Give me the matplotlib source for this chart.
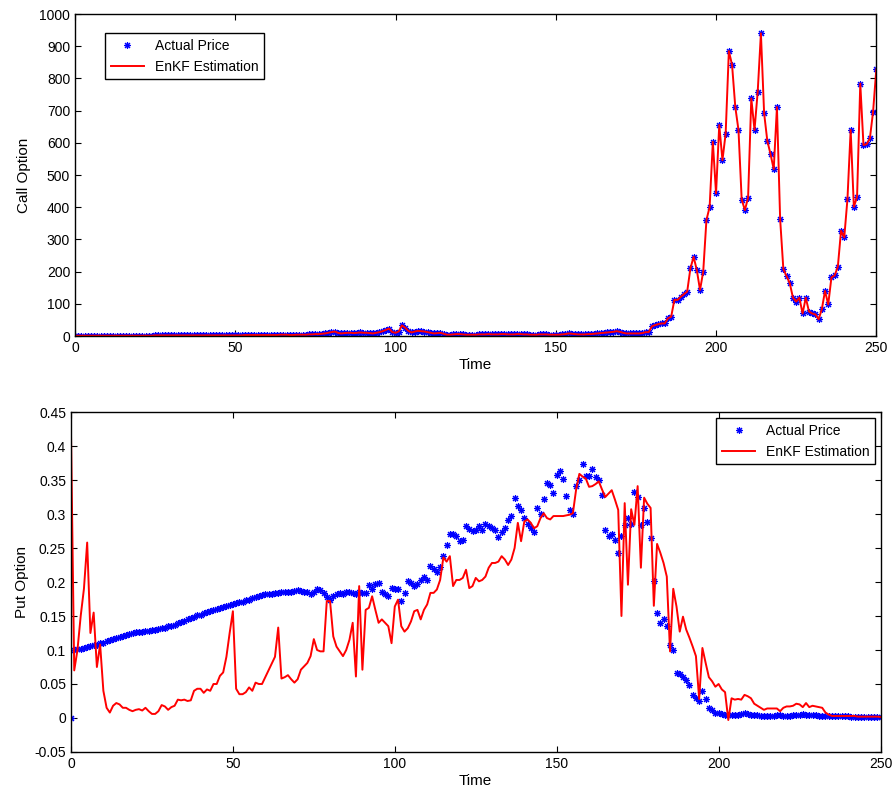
import matplotlib.pyplot as plt
import numpy as np
from matplotlib.ticker import FuncFormatter

plt.rcParams['font.family'] = ['Liberation Sans', 'DejaVu Sans']

# ── Datos ────────────────────────────────────────────────────────────────────
time = np.arange(251)

call_actual = [
    1, 1, 1, 1, 1, 1, 1, 1, 1, 1, 1, 1, 1, 1, 1, 1, 1, 1, 1, 1,
    1, 1, 1, 1, 1, 2, 2, 2, 2, 2, 2, 2, 2, 2, 2, 2, 2, 2, 2, 2,
    2, 2, 2, 2, 2, 2, 2, 2, 2, 2, 2, 2, 2, 3, 3, 3, 3, 3, 3, 3,
    3, 3, 3, 3, 4, 4, 4, 3, 3, 4, 4, 4, 4, 5, 5, 6,
    6, 7, 8, 10, 12, 14, 10, 8, 9, 10, 10, 9, 10, 11, 10, 10, 9, 8, 10, 12,
    15, 19, 23, 12, 10, 14, 33, 26, 16, 11, 14, 16, 15, 14, 12, 10, 8, 9, 10, 7,
    4, 4, 5, 6, 6, 5, 4, 4, 4, 4,
    5, 5, 5, 6, 5, 5, 5, 6, 6, 5, 5, 5, 6, 6, 5, 5, 4, 4, 4, 5, 5, 5, 4, 4, 4,
    4, 5, 6, 8, 7, 6, 5, 5, 5, 6, 6, 7, 8, 9, 10, 11, 12, 13, 15, 13, 10, 8, 8, 8,
    8, 8, 9, 12,
    12, 30, 34, 37, 39, 39, 55, 60, 112, 112, 122, 130, 138, 210, 246, 205, 143, 200,
    360, 401, 603, 443, 655, 546, 629,
    885, 842, 712, 640, 424, 391, 430, 738, 640, 759,
    940, 692, 606, 565, 518, 711, 363, 208, 186, 164,
    119, 107, 119, 70, 119, 76, 70, 67, 52, 83,
    140, 98, 182, 188, 215, 327, 306, 425, 640, 401,
    432, 784, 593, 596, 614, 697, 828,
]
# en la figura la estimación pasa por el centro de cada punto
call_enkf = list(call_actual)

put_actual = [
    0.000,
    0.100, 0.101, 0.102, 0.103, 0.105, 0.106, 0.107, 0.108, 0.110, 0.111,
    0.113, 0.114, 0.116, 0.117, 0.119, 0.120, 0.122, 0.123, 0.125, 0.126,
    0.127, 0.127, 0.128, 0.128, 0.129, 0.130, 0.131, 0.132, 0.133, 0.135,
    0.136, 0.137, 0.139, 0.141, 0.143, 0.145, 0.147, 0.149, 0.151, 0.152,
    0.154, 0.156, 0.157, 0.159, 0.160, 0.162, 0.163, 0.165, 0.166, 0.168,
    0.169, 0.170, 0.171, 0.173, 0.174, 0.176, 0.178, 0.179, 0.181, 0.182,
    0.183, 0.183, 0.184, 0.184, 0.185, 0.185, 0.186, 0.186, 0.187, 0.188,
    0.187, 0.186, 0.185, 0.183, 0.185, 0.190, 0.188, 0.184, 0.178, 0.174,
    0.180, 0.183, 0.184, 0.183, 0.185, 0.186, 0.184, 0.183, 0.185, 0.184,
    0.184, 0.195, 0.190, 0.197, 0.199, 0.186, 0.182, 0.179, 0.191, 0.190,
    0.189, 0.172, 0.184, 0.201, 0.198, 0.194, 0.197, 0.203, 0.207, 0.203,
    0.223, 0.219, 0.215, 0.222, 0.238, 0.255, 0.270, 0.270, 0.267, 0.260,
    0.262, 0.282, 0.278, 0.275, 0.277, 0.282, 0.277, 0.286, 0.282, 0.280,
    0.277, 0.266, 0.273, 0.279, 0.291, 0.297, 0.324, 0.312, 0.306, 0.294,
    0.286, 0.280, 0.273, 0.309, 0.300, 0.322, 0.346, 0.343, 0.331, 0.358,
    0.363, 0.351, 0.326, 0.306, 0.300, 0.341, 0.350, 0.374, 0.356, 0.356,
    0.366, 0.355, 0.350, 0.328, 0.277, 0.267, 0.270, 0.262, 0.242, 0.268,
    0.284, 0.294, 0.286, 0.332, 0.325, 0.284, 0.309, 0.288, 0.265, 0.201,
    0.154, 0.140, 0.146, 0.135, 0.108, 0.100, 0.066, 0.064, 0.061, 0.056,
    0.049, 0.034, 0.029, 0.025, 0.039, 0.028, 0.015, 0.012, 0.008, 0.008,
    0.006, 0.005, 0.004, 0.004, 0.005, 0.004, 0.006, 0.007, 0.006, 0.005,
    0.004, 0.004, 0.003, 0.003, 0.003, 0.003, 0.003, 0.004, 0.004, 0.003,
    0.003, 0.003, 0.004, 0.004, 0.005, 0.006, 0.005, 0.004, 0.004, 0.004,
    0.003, 0.003, 0.003, 0.003, 0.003, 0.003, 0.003, 0.003, 0.003, 0.003,
    0.002, 0.002, 0.002, 0.002, 0.002, 0.002, 0.002, 0.002, 0.002, 0.002,
]

put_enkf = [
    0.420, 0.070, 0.100, 0.150, 0.190, 0.258, 0.125, 0.155, 0.075, 0.108,
    0.040, 0.015, 0.008, 0.018, 0.022, 0.020, 0.015, 0.015, 0.012, 0.010,
    0.012, 0.013, 0.011, 0.015, 0.010, 0.006, 0.006, 0.010, 0.019, 0.017,
    0.012, 0.016, 0.018, 0.027, 0.026, 0.027, 0.025, 0.026, 0.040, 0.043,
    0.043, 0.037, 0.042, 0.040, 0.050, 0.050, 0.062, 0.067, 0.090, 0.125,
    0.157, 0.043, 0.035, 0.035, 0.038, 0.045, 0.040, 0.052, 0.050, 0.050,
    0.060, 0.070, 0.080, 0.090, 0.133, 0.058, 0.060, 0.063, 0.057, 0.052,
    0.057, 0.071, 0.076, 0.081, 0.091, 0.116, 0.100, 0.098, 0.098, 0.172,
    0.172, 0.120, 0.105, 0.098, 0.091, 0.100, 0.115, 0.140, 0.061, 0.194,
    0.071, 0.159, 0.162, 0.179, 0.159, 0.140, 0.145, 0.140, 0.135, 0.110,
    0.164, 0.174, 0.135, 0.127, 0.132, 0.142, 0.157, 0.159, 0.145, 0.159,
    0.167, 0.184, 0.184, 0.189, 0.203, 0.236, 0.230, 0.238, 0.194, 0.203,
    0.203, 0.206, 0.218, 0.191, 0.194, 0.206, 0.201, 0.203, 0.208, 0.221,
    0.228, 0.228, 0.230, 0.238, 0.233, 0.225, 0.233, 0.250, 0.287, 0.260,
    0.289, 0.292, 0.287, 0.279, 0.282, 0.294, 0.301, 0.294, 0.292, 0.297,
    0.297, 0.297, 0.297, 0.298, 0.299, 0.301, 0.336, 0.359, 0.355, 0.352,
    0.340, 0.341, 0.344, 0.348, 0.336, 0.325, 0.330, 0.335, 0.321, 0.306,
    0.150, 0.316, 0.196, 0.307, 0.284, 0.341, 0.221, 0.324, 0.315, 0.309,
    0.165, 0.256, 0.243, 0.228, 0.208, 0.098, 0.190, 0.164, 0.127, 0.149,
    0.130, 0.118, 0.105, 0.091, 0.028, 0.103, 0.081, 0.060, 0.054, 0.046,
    0.050, 0.042, 0.038, -0.003, 0.029, 0.027, 0.028, 0.027, 0.034, 0.032,
    0.029, 0.021, 0.018, 0.015, 0.012, 0.014, 0.014, 0.014, 0.014, 0.010,
    0.015, 0.017, 0.017, 0.018, 0.021, 0.020, 0.016, 0.022, 0.016, 0.018,
    0.017, 0.016, 0.015, 0.008, 0.005, 0.003, 0.003, 0.003, 0.003, 0.003,
    0.003, 0.003, 0.003, 0.002, 0.002, 0.002, 0.002, 0.002, 0.002, 0.002,
    0.0015,
]

assert len(call_actual) == len(time) and len(put_actual) == len(time)
assert len(put_enkf) == len(time)

# ── Gráfica ──────────────────────────────────────────────────────────────────
fig = plt.figure(figsize=(8.94, 7.94), dpi=100)
ax1 = fig.add_axes([0.0839, 0.5768, 0.8963, 0.4055])
ax2 = fig.add_axes([0.0794, 0.0529, 0.9055, 0.4282])

star = (8, 2, 0)


def dibujar(ax, actual, est, legend_kw):
    ax.plot(time, actual, linestyle="none", marker=star, markersize=5,
            markeredgewidth=0.8, color="b", label="Actual Price")
    ax.plot(time, est, color="r", linewidth=1.4, label="EnKF Estimation")
    ax.set_xlim(0, 250)
    ax.set_xticks(np.arange(0, 251, 50))
    ax.set_xlabel("Time", fontsize=11, labelpad=2)
    ax.tick_params(direction="in", top=True, right=True, length=4,
                   labelsize=10, width=0.8)
    for s in ax.spines.values():
        s.set_linewidth(1.0)
    leg = ax.legend(numpoints=1, fancybox=False, framealpha=1,
                    edgecolor="k", fontsize=10, handlelength=2.4,
                    borderaxespad=0, **legend_kw)
    leg.get_frame().set_linewidth(1.0)


dibujar(ax1, call_actual, call_enkf,
        dict(loc="upper left", bbox_to_anchor=(0.0375, 0.941)))
ax1.set_ylim(0, 1000)
ax1.set_yticks(np.arange(0, 1001, 100))
ax1.set_ylabel("Call Option", fontsize=11, labelpad=6)

dibujar(ax2, put_actual, put_enkf,
        dict(loc="upper right", bbox_to_anchor=(0.9938, 0.982)))
ax2.set_ylim(-0.05, 0.45)
ax2.set_yticks(np.round(np.arange(-0.05, 0.451, 0.05), 2))
ax2.yaxis.set_major_formatter(FuncFormatter(lambda v, p: f"{v:g}"))
ax2.set_ylabel("Put Option", fontsize=11, labelpad=4)

fig.savefig("out.png", dpi=100)
